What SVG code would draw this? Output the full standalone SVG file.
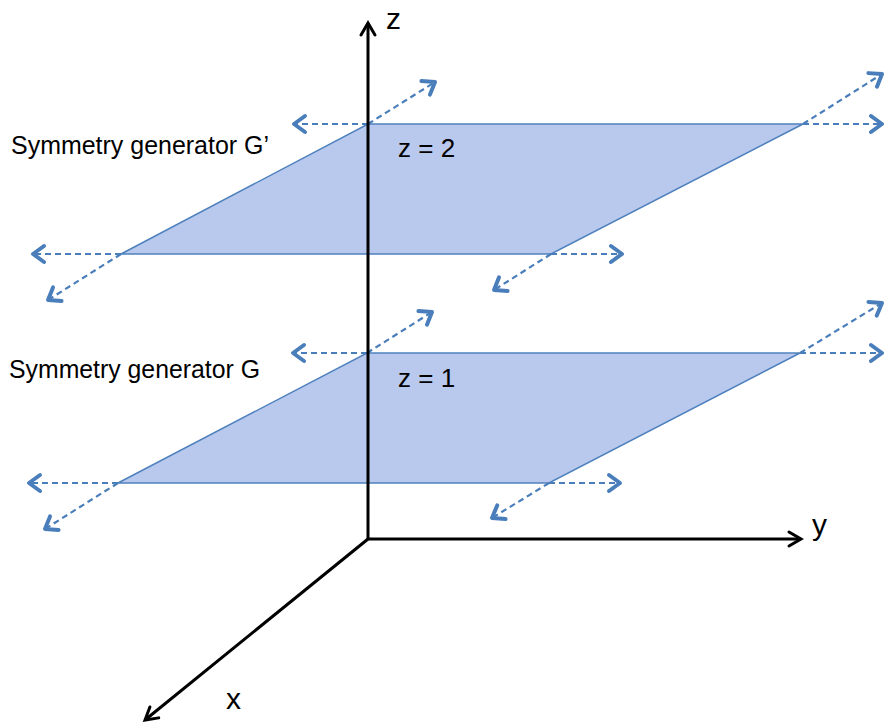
<svg xmlns="http://www.w3.org/2000/svg" width="884" height="724" viewBox="0 0 884 724">
<style>
.plane{fill:#b9c9ee;stroke:#4f81bd;stroke-width:1.5}
.dash{fill:none;stroke:#4a7ebb;stroke-width:2.2;stroke-dasharray:6 4;marker-end:url(#bh)}
.axis{fill:none;stroke:#000;stroke-width:3;marker-end:url(#ah)}
.lbl{font-family:"Liberation Sans",Arial,sans-serif;fill:#000}
</style>
<defs>
<marker id="bh" markerUnits="userSpaceOnUse" viewBox="-14 -10 16 20" refX="0" refY="0" markerWidth="16" markerHeight="20" orient="auto" overflow="visible">
<path d="M-11,-8 L0,0 L-11,8" fill="none" stroke="#4a7ebb" stroke-width="4" stroke-linecap="round" stroke-linejoin="round"/>
</marker>
<marker id="ah" markerUnits="userSpaceOnUse" viewBox="-14 -10 16 20" refX="0" refY="0" markerWidth="16" markerHeight="20" orient="auto" overflow="visible">
<path d="M-12,-7 L0,0 L-12,7" fill="none" stroke="#000" stroke-width="3" stroke-linecap="round" stroke-linejoin="miter"/>
</marker>
</defs>
<rect width="884" height="724" fill="#fff"/>
<g id="plane-z2">
<polygon class="plane" points="368,124 803,124 551,254 121,254"/>
</g>
<g id="plane-z1">
<polygon class="plane" points="367,353 800,353 549,483 118,483"/>
</g>
<g id="connectors">
<line class="dash" x1="368" y1="124" x2="294" y2="124"/>
<line class="dash" x1="368" y1="124" x2="435" y2="82"/>
<line class="dash" x1="803" y1="124" x2="882" y2="124"/>
<line class="dash" x1="803" y1="124" x2="882" y2="74"/>
<line class="dash" x1="121" y1="254" x2="33" y2="254"/>
<line class="dash" x1="121" y1="254" x2="48" y2="300"/>
<line class="dash" x1="551" y1="254" x2="622" y2="254"/>
<line class="dash" x1="551" y1="254" x2="494" y2="290"/>
<line class="dash" x1="367" y1="353" x2="293" y2="353"/>
<line class="dash" x1="367" y1="353" x2="432" y2="312"/>
<line class="dash" x1="800" y1="353" x2="882" y2="353"/>
<line class="dash" x1="800" y1="353" x2="882" y2="303"/>
<line class="dash" x1="118" y1="483" x2="29" y2="483"/>
<line class="dash" x1="118" y1="483" x2="45" y2="529"/>
<line class="dash" x1="549" y1="483" x2="620" y2="483"/>
<line class="dash" x1="549" y1="483" x2="492" y2="518"/>
</g>
<g id="axes">
<line class="axis" x1="368" y1="539" x2="368" y2="23"/>
<line class="axis" x1="367" y1="539" x2="801" y2="539"/>
<line class="axis" x1="368" y1="539" x2="145" y2="720"/>
</g>
<g id="labels">
<text class="lbl" x="386" y="29" font-size="30">z</text>
<text class="lbl" x="812" y="535" font-size="30">y</text>
<text class="lbl" x="226" y="709" font-size="30">x</text>
<text class="lbl" x="398" y="157" font-size="26">z = 2</text>
<text class="lbl" x="398" y="387" font-size="26">z = 1</text>
<text class="lbl" x="11" y="154" font-size="26" textLength="258" lengthAdjust="spacingAndGlyphs">Symmetry generator G’</text>
<text class="lbl" x="9" y="378" font-size="26" textLength="251" lengthAdjust="spacingAndGlyphs">Symmetry generator G</text>
</g>
</svg>
